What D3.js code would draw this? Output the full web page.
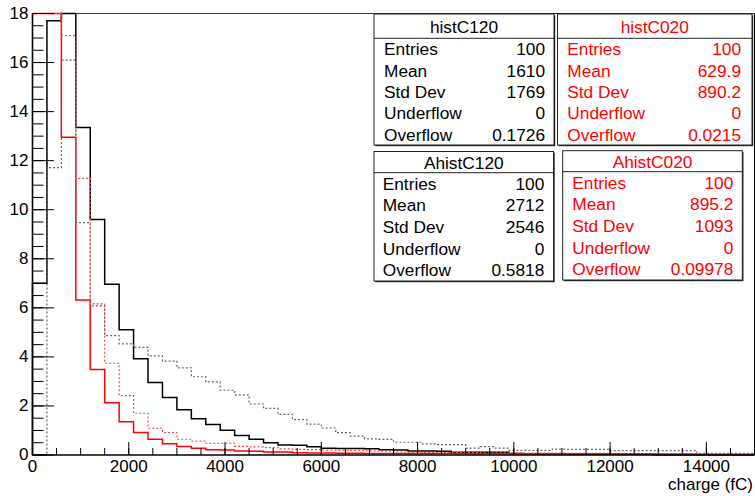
<!DOCTYPE html>
<html>
<head>
<meta charset="utf-8">
<script src="https://cdn.jsdelivr.net/npm/d3@7"></script>
<style>
  body { margin: 0; background: #fff; }
  svg { display: block; font-family: "Liberation Sans", Arial, Helvetica, sans-serif; }
</style>
</head>
<body>
<div id="chart"></div>
<script>
// 50 bins of 300 fC, 0 - 15000
var binEdges = d3.range(0, 15001, 300);

// bin contents (values above 18 are clipped by the frame)
var histC120 = [7.0, 17.7, 20.0, 13.35, 9.6, 6.96, 5.11, 3.92, 2.96, 2.34,
  1.84, 1.48, 1.24, 1.01, 0.80, 0.64, 0.50, 0.41, 0.40, 0.34,
  0.28, 0.27, 0.26, 0.25, 0.21, 0.20, 0.16, 0.16, 0.15, 0.11,
  0.11, 0.11, 0.11, 0.06, 0.05, 0.05, 0.05, 0.04, 0.04, 0.04,
  0.04, 0.03, 0.03, 0.03, 0.03, 0.03, 0.02, 0.02, 0.02, 0.02];

var histC020 = [30, 36, 12.95, 6.32, 3.49, 2.13, 1.36, 0.92, 0.64, 0.46,
  0.35, 0.28, 0.21, 0.20, 0.16, 0.15, 0.12, 0.12, 0.09, 0.08,
  0.08, 0.07, 0.07, 0.06, 0.06, 0.06, 0.06, 0.06, 0.06, 0.06,
  0.05, 0.05, 0.05, 0.05, 0.05, 0.05, 0.05, 0.05, 0.05, 0.05,
  0.05, 0.05, 0.05, 0, 0, 0, 0, 0, 0, 0];

var AhistC120 = [0, 11.72, 16.1, 9.47, 6.08, 4.87, 4.53, 4.39, 4.04, 3.83,
  3.55, 3.19, 2.98, 2.64, 2.45, 2.08, 1.90, 1.66, 1.44, 1.26,
  1.10, 0.91, 0.77, 0.66, 0.64, 0.52, 0.52, 0.45, 0.42, 0.42,
  0.28, 0.34, 0.28, 0.19, 0.19, 0.19, 0.24, 0.23, 0.23, 0.23,
  0.18, 0.18, 0.18, 0.18, 0.18, 0.18, 0.07, 0.07, 0.07, 0.07];

var AhistC020 = [20, 28, 17.1, 11.28, 6.16, 3.74, 2.42, 1.70, 1.09, 0.92,
  0.64, 0.57, 0.48, 0.48, 0.35, 0.33, 0.30, 0.25, 0.23, 0.22,
  0.20, 0.20, 0.19, 0.17, 0.15, 0.12, 0.11, 0.10, 0.10, 0.10,
  0.10, 0.09, 0.09, 0.09, 0.08, 0.08, 0.08, 0.07, 0.07, 0.07,
  0.07, 0.06, 0.06, 0.06, 0.05, 0.05, 0.04, 0.04, 0.04, 0.04];

// axis ticks
var xMajorTicks = [0, 2000, 4000, 6000, 8000, 10000, 12000, 14000];
var xMinorTicks = d3.range(0, 15001, 500);
var yMajorTicks = [0, 2, 4, 6, 8, 10, 12, 14, 16, 18];
var yMinorTicks = d3.range(0, 18.01, 0.5);
var xTitle = "charge (fC)";

// stat boxes
var statNames = ["Entries", "Mean", "Std Dev", "Underflow", "Overflow"];
var statTitles = ["histC120", "histC020", "AhistC120", "AhistC020"];
var statsC120 = ["100", "1610", "1769", "0", "0.1726"];
var statsC020 = ["100", "629.9", "890.2", "0", "0.0215"];
var statsAC120 = ["100", "2712", "2546", "0", "0.5818"];
var statsAC020 = ["100", "895.2", "1093", "0", "0.09978"];

var svgWidth = 755;
var svgHeight = 496;
var frameLeft = 32.5, frameRight = 754.5, frameTop = 13.5, frameBottom = 455;

var svg = d3.select("#chart")
  .append("svg")
  .attr("width", svgWidth)
  .attr("height", svgHeight);

var x = d3.scaleLinear().domain([0, 15000]).range([frameLeft, frameRight]);
var y = d3.scaleLinear().domain([0, 18]).range([frameBottom, frameTop]).clamp(true);

// histogram outlines
function stepPoints(values) {
  var pts = [[binEdges[0], 0]];
  values.forEach(function(v, i) {
    pts.push([binEdges[i], v]);
    pts.push([binEdges[i + 1], v]);
  });
  pts.push([binEdges[binEdges.length - 1], 0]);
  return pts;
}

var line = d3.line()
  .x(function(d) { return x(d[0]); })
  .y(function(d) { return y(d[1]); });

var series = [
  { values: histC120, color: "#000", dash: null, width: 1.5 },
  { values: histC020, color: "#ff0000", dash: null, width: 1.5 },
  { values: AhistC120, color: "#666", dash: "2,2", width: 1.2 },
  { values: AhistC020, color: "#ff4040", dash: "2,2", width: 1.1 }
];

var histGroup = svg.append("g");
series.forEach(function(s) {
  histGroup.append("path")
    .datum(stepPoints(s.values))
    .attr("d", line)
    .attr("fill", "none")
    .attr("stroke", s.color)
    .attr("stroke-width", s.width)
    .attr("stroke-dasharray", s.dash);
});

// left and bottom frame edges go over the histograms
svg.append("path")
  .attr("d", "M" + frameRight + "," + frameTop + "V" + frameBottom)
  .attr("stroke", "#000").attr("fill", "none");
svg.append("path")
  .attr("d", "M" + frameLeft + "," + frameTop + "V" + frameBottom + "H" + frameRight)
  .attr("stroke", "#000").attr("stroke-width", 1.3).attr("fill", "none");
// top edge only where no histogram is clipped against it
svg.append("path")
  .attr("d", "M" + x(900) + "," + frameTop + "H" + frameRight)
  .attr("stroke", "#333").attr("fill", "none");

// axes, ticks point into the frame
var xMinor = d3.axisBottom(x).tickValues(xMinorTicks).tickSize(-7).tickFormat("").offset(0);
var xMajor = d3.axisBottom(x).tickValues(xMajorTicks).tickSize(-13).tickPadding(5)
  .tickFormat(d3.format("d")).offset(0);
var yMinor = d3.axisLeft(y).tickValues(yMinorTicks).tickSize(-11).tickFormat("").offset(0);
var yMajor = d3.axisLeft(y).tickValues(yMajorTicks).tickSize(-21.5).tickPadding(4)
  .tickFormat(d3.format("d")).offset(0);

[xMinor, xMajor].forEach(function(ax) {
  svg.append("g")
    .attr("transform", "translate(0," + frameBottom + ")")
    .call(ax)
    .call(function(g) { g.select(".domain").remove(); });
});
[yMinor, yMajor].forEach(function(ax) {
  svg.append("g")
    .attr("transform", "translate(" + frameLeft + ",0)")
    .call(ax)
    .call(function(g) { g.select(".domain").remove(); });
});
svg.selectAll(".tick line").attr("stroke", "#000").attr("stroke-width", 1);
svg.selectAll(".tick text")
  .attr("font-size", 17)
  .attr("font-family", "Liberation Sans, Arial, Helvetica, sans-serif")
  .attr("fill", "#000");

svg.append("text")
  .attr("x", 753)
  .attr("y", 490)
  .attr("text-anchor", "end")
  .attr("font-size", 17)
  .text(xTitle);

// stat boxes
var boxes = [
  { title: statTitles[0], values: statsC120, color: "#000",
    x0: 374, x1: 554, y0: 14, y1: 145, sep: 38.3, lx: 384, vx: 545 },
  { title: statTitles[1], values: statsC020, color: "#ff0000",
    x0: 557.5, x1: 752, y0: 14, y1: 145, sep: 38.3, lx: 567.3, vx: 741 },
  { title: statTitles[2], values: statsAC120, color: "#000",
    x0: 374, x1: 553.5, y0: 151.5, y1: 281, sep: 172.7, lx: 382.7, vx: 544.3 },
  { title: statTitles[3], values: statsAC020, color: "#ff0000",
    x0: 562.7, x1: 742.3, y0: 150.7, y1: 280, sep: 171.7, lx: 572.3, vx: 733.3 }
];

boxes.forEach(function(b) {
  var g = svg.append("g");
  // shadow
  g.append("rect")
    .attr("x", b.x0 + 1.2).attr("y", b.y0 + 1.2)
    .attr("width", b.x1 - b.x0).attr("height", b.y1 - b.y0)
    .attr("fill", "#222");
  g.append("rect")
    .attr("x", b.x0).attr("y", b.y0)
    .attr("width", b.x1 - b.x0).attr("height", b.y1 - b.y0)
    .attr("fill", "#fff").attr("stroke", "#222").attr("stroke-width", 1);
  g.append("line")
    .attr("x1", b.x0).attr("x2", b.x1)
    .attr("y1", b.sep).attr("y2", b.sep)
    .attr("stroke", "#222").attr("stroke-width", 1);
  g.append("text")
    .attr("x", (b.x0 + b.x1) / 2)
    .attr("y", (b.y0 + b.sep) / 2 + 6.4)
    .attr("text-anchor", "middle")
    .attr("font-size", 17.3)
    .attr("fill", b.color)
    .text(b.title);
  var rowH = (b.y1 - b.sep) / statNames.length;
  statNames.forEach(function(name, i) {
    var base = b.sep + rowH * i + rowH / 2 + 6.2;
    g.append("text")
      .attr("x", b.lx).attr("y", base)
      .attr("font-size", 17.3)
      .attr("fill", b.color)
      .text(name);
    g.append("text")
      .attr("x", b.vx).attr("y", base)
      .attr("text-anchor", "end")
      .attr("font-size", 17.3)
      .attr("fill", b.color)
      .text(b.values[i]);
  });
});
</script>
</body>
</html>
